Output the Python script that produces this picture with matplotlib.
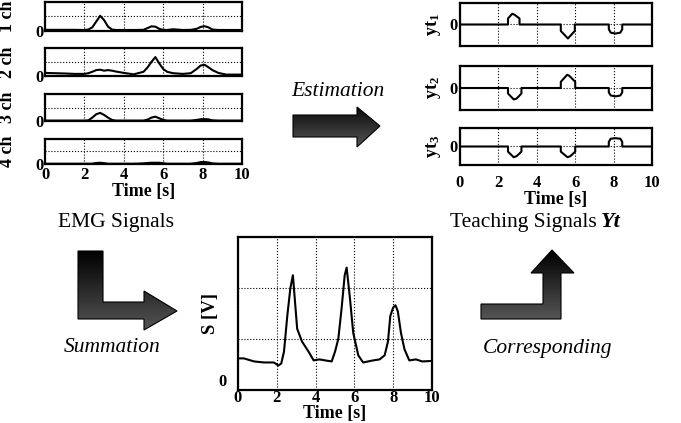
import numpy as np
import matplotlib
matplotlib.use("Agg")
import matplotlib.pyplot as plt
from matplotlib.colors import LinearSegmentedColormap
from matplotlib.patches import Polygon

plt.rcParams['font.family'] = ['Liberation Serif', 'DejaVu Serif']
plt.rcParams['mathtext.fontset'] = 'custom'
plt.rcParams['mathtext.rm'] = 'Liberation Serif'
plt.rcParams['mathtext.bf'] = 'Liberation Serif:bold'
plt.rcParams['mathtext.it'] = 'Liberation Serif:italic'

# --- EMG channels (4 ch) ---
t_emg = [0, 0.5, 1, 1.5, 2, 2.2, 2.4, 2.6, 2.8, 3.0, 3.2, 3.4, 3.6, 4.0, 4.5, 5.0, 5.2,
         5.4, 5.6, 5.8, 6.0, 6.2, 6.5, 7.0, 7.4, 7.7, 7.9, 8.1, 8.3, 8.5, 8.8, 9.2, 10]
ch1 = [0.08, 0.08, 0.08, 0.08, 0.07, 0.1, 0.25, 0.65, 1.05, 0.75, 0.3, 0.1, 0.07, 0.07, 0.07,
       0.08, 0.2, 0.32, 0.3, 0.15, 0.08, 0.07, 0.12, 0.07, 0.08, 0.15, 0.28, 0.33, 0.25, 0.1,
       0.07, 0.07, 0.07]
ch2 = [0.22, 0.2, 0.18, 0.15, 0.15, 0.2, 0.3, 0.42, 0.45, 0.38, 0.42, 0.38, 0.32, 0.22, 0.12,
       0.3, 0.6, 1.0, 1.35, 0.9, 0.5, 0.3, 0.2, 0.15, 0.2, 0.5, 0.75, 0.8, 0.62, 0.42, 0.22,
       0.1, 0.1]
ch3 = [0.03, 0.03, 0.03, 0.03, 0.03, 0.05, 0.25, 0.5, 0.6, 0.45, 0.25, 0.08, 0.03, 0.03, 0.03,
       0.03, 0.1, 0.25, 0.32, 0.2, 0.08, 0.03, 0.03, 0.03, 0.03, 0.08, 0.13, 0.14, 0.12, 0.05,
       0.03, 0.03, 0.03]
ch4 = [0.02, 0.02, 0.02, 0.02, 0.02, 0.02, 0.03, 0.08, 0.1, 0.07, 0.02, 0.02, 0.02, 0.02, 0.02,
       0.05, 0.08, 0.1, 0.1, 0.1, 0.06, 0.02, 0.02, 0.02, 0.02, 0.08, 0.15, 0.16, 0.12, 0.05,
       0.02, 0.02, 0.02]
emg_channels = [ch1, ch2, ch3, ch4]
emg_labels = ['1 ch', '2 ch', '3 ch', '4 ch']

# --- teaching signals ---
yt1_t = [0, 2.5, 2.5, 2.72, 2.85, 3.1, 3.1, 5.25, 5.25, 5.62, 5.98, 5.98, 7.75, 7.75, 7.85,
         8.1, 8.35, 8.45, 8.45, 10]
yt1_v = [0, 0, 0.28, 0.5, 0.45, 0.28, 0, 0, -0.3, -0.65, -0.3, 0, 0, -0.22, -0.38, -0.42,
         -0.38, -0.22, 0, 0]
yt2_t = [0, 2.5, 2.5, 2.8, 2.95, 3.2, 3.2, 5.25, 5.25, 5.58, 5.7, 6.0, 6.0, 7.75, 7.75, 7.85,
         8.1, 8.35, 8.45, 8.45, 10]
yt2_v = [0, 0, -0.25, -0.52, -0.48, -0.25, 0, 0, 0.28, 0.6, 0.55, 0.28, 0, 0, -0.2, -0.34,
         -0.38, -0.34, -0.2, 0, 0]
yt3_t = [0, 2.5, 2.5, 2.8, 2.95, 3.2, 3.2, 5.25, 5.25, 5.6, 5.75, 6.0, 6.0, 7.75, 7.75, 7.85,
         8.1, 8.35, 8.45, 8.45, 10]
yt3_v = [0, 0, -0.28, -0.58, -0.52, -0.28, 0, 0, -0.28, -0.58, -0.52, -0.28, 0, 0, 0.25,
         0.42, 0.45, 0.42, 0.25, 0, 0]
yt_series = [(yt1_t, yt1_v), (yt2_t, yt2_v), (yt3_t, yt3_v)]
yt_labels = [r'$\mathbf{yt}_\mathbf{1}$', r'$\mathbf{yt}_\mathbf{2}$', r'$\mathbf{yt}_\mathbf{3}$']

# --- summed signal S ---
s_t = [0, 0.3, 0.83, 1.34, 1.85, 2.08, 2.23, 2.37, 2.54, 2.7, 2.83, 3.05, 3.3, 3.64, 3.9,
       4.2, 4.5, 4.83, 5.0, 5.17, 5.34, 5.5, 5.6, 5.77, 5.94, 6.2, 6.45, 6.96, 7.3, 7.56,
       7.73, 7.85, 8.0, 8.12, 8.24, 8.4, 8.58, 8.83, 9.17, 9.5, 10]
s_v = [0.62, 0.62, 0.56, 0.54, 0.54, 0.48, 0.52, 0.75, 1.45, 2.0, 2.25, 1.2, 0.95, 0.75,
       0.58, 0.6, 0.58, 0.56, 0.75, 1.0, 1.6, 2.25, 2.4, 1.8, 1.12, 0.68, 0.54, 0.58,
       0.6, 0.68, 0.95, 1.45, 1.62, 1.66, 1.54, 1.12, 0.8, 0.58, 0.6, 0.56, 0.57]

time_ticks = [0, 2, 4, 6, 8, 10]

W, H = 681, 423
fig = plt.figure(figsize=(W / 100, H / 100), dpi=100)

# overlay in pixel coordinates for arrows and captions
bg = fig.add_axes([0, 0, 1, 1], zorder=0)
bg.set_xlim(0, W)
bg.set_ylim(H, 0)
bg.axis('off')


def px_axes(x0, y0, x1, y1):
    return fig.add_axes([x0 / W, 1 - y1 / H, (x1 - x0) / W, (y1 - y0) / H], zorder=1)


def style(ax, yticks, show_x, xpad=2, ypad=2):
    ax.set_xlim(0, 10)
    ax.set_xticks(time_ticks)
    ax.set_yticks(yticks)
    ax.set_yticklabels(['0' if v == 0 else '' for v in yticks])
    ax.grid(True, linestyle=':', color='black', linewidth=0.8)
    ax.tick_params(length=0, labelsize=12)
    ax.tick_params(axis='x', pad=xpad)
    ax.tick_params(axis='y', pad=ypad)
    for lab in ax.get_xticklabels() + ax.get_yticklabels():
        lab.set_fontweight('bold')
    if not show_x:
        ax.set_xticklabels([])
    for sp in ax.spines.values():
        sp.set_linewidth(1.6)


# left: EMG
emg_boxes = [(2, 31), (48, 76), (94, 121), (139, 164)]
for i, (y0, y1) in enumerate(emg_boxes):
    ax = px_axes(45, y0, 242, y1)
    ax.plot(t_emg, emg_channels[i], color='black', lw=1.5)
    ax.set_ylim(0, 2)
    style(ax, [0, 1, 2], i == 3, xpad=2, ypad=1)
    ax.set_ylabel(emg_labels[i], fontsize=13, fontweight='bold')
    ax.yaxis.set_label_coords(-0.145, 0.5)
    if i == 3:
        ax.set_xlabel('Time [s]', fontsize=13, fontweight='bold', labelpad=0)

# right: teaching signals
yt_boxes = [(3, 46), (66, 110), (128, 165)]
for i, (y0, y1) in enumerate(yt_boxes):
    ax = px_axes(460, y0, 652, y1)
    tt, vv = yt_series[i]
    ax.plot(tt, vv, color='black', lw=1.5)
    ax.set_ylim(-1, 1)
    style(ax, [-1, 0, 1], i == 2, xpad=7, ypad=2)
    ax.set_ylabel(yt_labels[i], fontsize=13)
    ax.yaxis.set_label_coords(-0.09, 0.5)
    if i == 2:
        ax.set_xlabel('Time [s]', fontsize=13, fontweight='bold', labelpad=0)

# centre: summation
ax = px_axes(238, 237, 432, 390)
ax.plot(s_t, s_v, color='black', lw=1.5)
ax.set_ylim(0, 3)
style(ax, [0, 1, 2, 3], True, xpad=0, ypad=8)
for lab in ax.get_yticklabels():
    lab.set_verticalalignment('bottom')
ax.set_ylabel('S [V]', fontsize=13.5, fontweight='bold')
ax.yaxis.set_label_coords(-0.1, 0.5)
ax.set_xlabel('Time [s]', fontsize=13, fontweight='bold', labelpad=-1)


def grad_arrow(pts, c_top, c_bot):
    poly = Polygon(pts, closed=True, facecolor='none', edgecolor='black', lw=0.8, zorder=3)
    bg.add_patch(poly)
    xs = [p[0] for p in pts]
    ys = [p[1] for p in pts]
    cmap = LinearSegmentedColormap.from_list('g', [c_top, c_bot])
    im = bg.imshow(np.linspace(0, 1, 200).reshape(-1, 1), cmap=cmap,
                   extent=(min(xs), max(xs), max(ys), min(ys)), aspect='auto', zorder=2)
    im.set_clip_path(poly)


grad_arrow([(293, 115), (357, 115), (357, 107), (380, 126), (357, 147), (357, 137), (293, 137)],
           '#0a0a0a', '#555555')
grad_arrow([(78, 251), (103, 251), (103, 302), (144, 302), (144, 291), (177, 311), (144, 330),
            (144, 319), (78, 319)], '#000000', '#555555')
grad_arrow([(481, 304), (543, 304), (543, 273), (531, 273), (552, 250), (574, 273), (561, 273),
            (561, 319), (481, 319)], '#000000', '#555555')
bg.set_xlim(0, W)
bg.set_ylim(H, 0)

bg.text(338, 92, 'Estimation', fontsize=15.5, style='italic', ha='center', va='center')
bg.text(116, 223, 'EMG Signals', fontsize=15.5, ha='center', va='center')
bg.text(112, 348, 'Summation', fontsize=15.5, style='italic', ha='center', va='center')
bg.text(597, 222, 'Teaching Signals', fontsize=15.5, ha='right', va='center')
bg.text(601, 222, 'Yt', fontsize=16, style='italic', fontweight='bold', ha='left', va='center')
bg.text(548, 348, 'Corresponding', fontsize=15.5, style='italic', ha='center', va='center')

fig.savefig('out.png', dpi=100)
